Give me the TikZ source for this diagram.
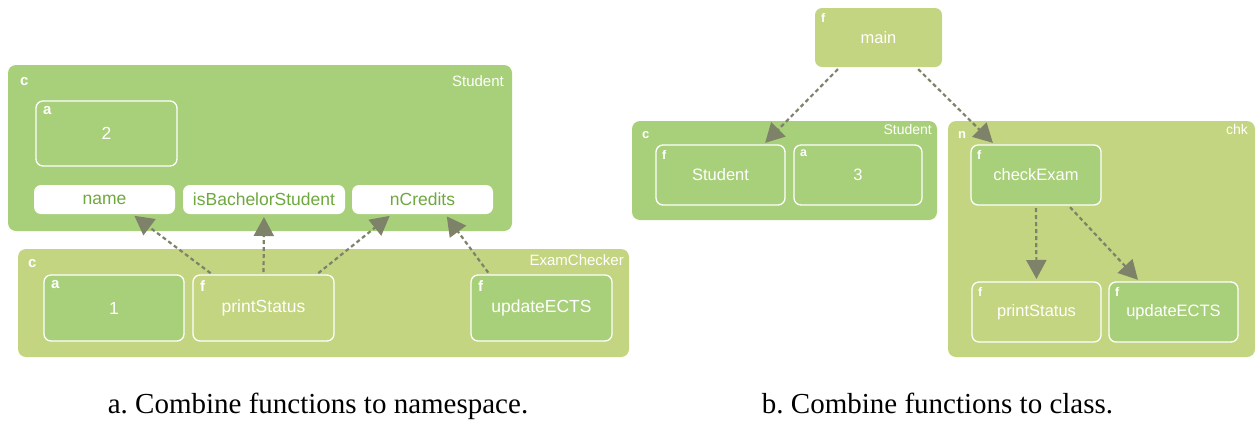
\documentclass[tikz,border=0pt]{standalone}
\usepackage{fontspec}
\setmainfont{Liberation Serif}
\setsansfont{Liberation Sans}
\usetikzlibrary{arrows.meta}
\frenchspacing
\definecolor{leaf}{HTML}{A8D07A}
\definecolor{olive}{HTML}{C3D580}
\definecolor{ink}{HTML}{6EA83F}
\definecolor{link}{HTML}{7E8269}
\tikzset{
  x=1pt, y=-1pt,
  base/.style={rectangle, inner sep=0pt, outer sep=0pt, text=white,
    font=\sffamily\fontsize{17.5}{20}\selectfont},
  small/.style={font=\sffamily\fontsize{16.5}{19}\selectfont},
  container/.style={base, rounded corners=8pt},
  unit/.style={base, rounded corners=7pt, draw=white, line width=1.3pt},
  member/.style={base, rounded corners=7pt, fill=white, text=ink},
  tag/.style={anchor=north west, inner xsep=7pt, inner ysep=5pt, text=white,
    font=\sffamily\bfseries\fontsize{15}{16}\selectfont},
  rtag/.style={tag, inner xsep=6pt, inner ysep=5pt,
    font=\sffamily\bfseries\fontsize{12.5}{14}\selectfont},
  bigtag/.style={anchor=north west, inner xsep=12pt, inner ysep=12pt, text=white,
    font=\sffamily\bfseries\fontsize{15}{16}\selectfont},
  rbigtag/.style={bigtag, inner xsep=10pt, inner ysep=10pt,
    font=\sffamily\bfseries\fontsize{13}{14}\selectfont},
  title/.style={anchor=north east, inner xsep=8pt, inner ysep=10pt, text=white,
    font=\sffamily\fontsize{15}{16}\selectfont},
  rtitle/.style={title, inner xsep=5pt, inner ysep=3pt,
    font=\sffamily\fontsize{14}{15}\selectfont},
  dep/.style={draw=link, line width=2.2pt, dash pattern=on 4pt off 3pt,
    -{Triangle[length=19pt,width=20pt]}, shorten <=3pt, shorten >=3pt},
  caption/.style={anchor=base, inner sep=0pt, font=\fontsize{29}{31}\selectfont}
}
\begin{document}
\begin{tikzpicture}
\useasboundingbox (0,0) rectangle (1257,421);

% ---- namespace variant ----
\node[container, fill=leaf, minimum width=504, minimum height=166,
  label={[bigtag]north west:c}, label={[title]north east:Student}]
  (stud) at (260,148) {};
\node[unit, fill=leaf, minimum width=141, minimum height=65,
  label={[tag]north west:a}] (attr2) at (106.5,133.5) {2};
\node[member, minimum width=141, minimum height=29] (name) at (104.5,199.5) {name};
\node[member, minimum width=162, minimum height=29] (isbach) at (264,199.5) {isBachelorStudent};
\node[member, minimum width=141, minimum height=29] (ncred) at (422.5,199.5) {nCredits};

\node[container, fill=olive, minimum width=611, minimum height=108,
  label={[bigtag, inner xsep=10pt, inner ysep=10pt]north west:c},
  label={[title, inner xsep=5pt, inner ysep=5pt]north east:ExamChecker}]
  (exam) at (323.5,303) {};
\node[unit, fill=leaf, minimum width=140, minimum height=66,
  label={[tag]north west:a}] (attr1) at (114,308) {1};
\node[unit, fill=olive, minimum width=141, minimum height=66,
  label={[tag]north west:f}] (pstat) at (263.5,308) {printStatus};
\node[unit, fill=leaf, minimum width=141, minimum height=66,
  label={[tag]north west:f}] (upd) at (541.5,308) {updateECTS};

\draw[dep] ([xshift=-50.5]pstat.north) -- ([xshift=27.5]name.south);
\draw[dep] (pstat.north) -- (isbach.south);
\draw[dep] ([xshift=52.5]pstat.north) -- ([xshift=-30.5]ncred.south);
\draw[dep] ([xshift=-51.5]upd.north) -- ([xshift=22.5]ncred.south);

% ---- class variant ----
\node[base, small, rounded corners=7pt, fill=olive, minimum width=127, minimum height=59,
  label={[rtag]north west:f}] (main) at (878.5,37.5) {main};

\node[container, fill=leaf, minimum width=305, minimum height=99,
  label={[rbigtag]north west:c},
  label={[rtitle]north east:Student}]
  (cls) at (784.5,170.5) {};
\node[unit, small, fill=leaf, minimum width=129, minimum height=60,
  label={[rtag]north west:f}] (ctor) at (720.5,175) {Student};
\node[unit, small, fill=leaf, minimum width=128, minimum height=60,
  label={[rtag]north west:a}] (attr3) at (858,175) {3};

\node[container, fill=olive, minimum width=307, minimum height=236,
  label={[rbigtag]north west:n},
  label={[rtitle, inner xsep=7pt]north east:chk}]
  (chk) at (1101.5,239) {};
\node[unit, small, fill=leaf, minimum width=130, minimum height=60,
  label={[rtag]north west:f}] (check) at (1036,175) {checkExam};
\node[unit, small, fill=olive, minimum width=129, minimum height=60,
  label={[rtag]north west:f}] (pstat2) at (1036.5,312) {printStatus};
\node[unit, small, fill=leaf, minimum width=129, minimum height=60,
  label={[rtag]north west:f}] (upd2) at (1173.5,312) {updateECTS};

\draw[dep] ([xshift=-38.5]main.south) -- ([xshift=42.5]ctor.north);
\draw[dep] ([xshift=37.5]main.south) -- ([xshift=-41]check.north);
\draw[dep] (check.south) -- (pstat2.north);
\draw[dep] ([xshift=32]check.south) -- ([xshift=-33.5]upd2.north);

% ---- captions ----
\node[caption] (capa) at (318,413) {a. Combine functions to namespace.};
\node[caption] (capb) at (937.5,413) {b. Combine functions to class.};
\end{tikzpicture}
\end{document}
